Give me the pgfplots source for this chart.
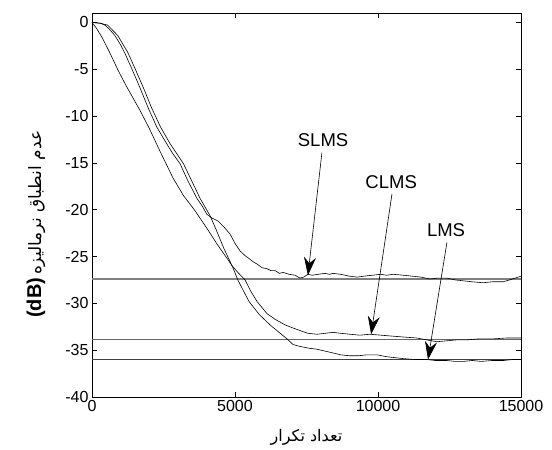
\documentclass[border=0pt]{standalone}
\usepackage{fontspec}
\setmainfont{Liberation Sans}
\newfontfamily\arabicfont[Script=Arabic]{DejaVu Sans}
\usepackage{pgfplots}
\pgfplotsset{compat=1.18}
\usetikzlibrary{arrows.meta}
\TeXXeTstate=1
\begin{document}
\begin{tikzpicture}
\begin{axis}[
  scale only axis, width=429pt, height=384pt,
  xmin=0, xmax=15000, ymin=-40, ymax=1,
  xtick={0,5000,10000,15000}, ytick={-40,-35,-30,-25,-20,-15,-10,-5,0},
  scaled x ticks=false,
  /pgf/number format/1000 sep={},
  /pgf/number format/assume math mode=true,
  tick label style={font=\fontsize{16}{18}\selectfont},
  tick align=inside, tick pos=both, major tick length=5pt,
  axis line style={line width=0.8pt},
  every tick/.style={black, line width=0.6pt},
  every axis x label/.style={at={(axis description cs:0.5,0)}, anchor=center, yshift=-40pt},
  every axis y label/.style={at={(axis description cs:0,0.45)}, anchor=center, xshift=-56pt, rotate=90},
  xlabel={\arabicfont\fontsize{16}{18}\selectfont\beginR تعداد تکرار\endR},
  ylabel={{\fontsize{20}{22}\selectfont\bfseries (dB)}\ {\arabicfont\fontsize{17}{19}\selectfont\beginR عدم انطباق نرماليزه\endR}},
  clip=false,
]
\coordinate (O) at (rel axis cs:0,0);
% reference levels
\addplot[gray, line width=1.2pt] coordinates {(0,-27.4) (15000,-27.4)};
\addplot[gray!80!black, line width=1.2pt] coordinates {(0,-33.9) (15000,-33.9)};
\addplot[black!75, line width=1.0pt] coordinates {(0,-36.0) (15000,-36.0)};
% SLMS
\addplot[black, line width=0.6pt] coordinates {
(0,0) (300,-0.1) (455,-0.3) (600,-0.7) (800,-1.4) (1000,-2.4) (1150,-3.3) (1400,-5.0)
(1680,-7.0) (1960,-9.1) (2270,-11.2) (2600,-12.9) (2800,-13.9) (3080,-15.1) (3350,-16.9)
(3670,-18.8) (3850,-19.6) (4020,-20.5) (4200,-20.9) (4400,-21.2) (4600,-21.8) (4826,-22.6)
(5000,-23.6) (5175,-24.4) (5350,-24.9) (5525,-25.3) (5650,-25.6) (5770,-25.8) (5950,-26.2) (6120,-26.3)
(6250,-26.5) (6400,-26.5) (6550,-26.8) (6680,-26.7) (6900,-26.9) (7100,-27.0) (7270,-27.3) (7400,-27.2) (7550,-26.9)
(7700,-27.0) (7900,-26.9) (8150,-26.8) (8300,-26.9) (8430,-26.8) (8700,-26.9) (9000,-27.1) (9270,-27.2)
(9500,-27.1) (9800,-27.0) (10100,-26.9) (10300,-27.0) (10530,-26.9) (10900,-27.0) (11200,-27.1) (11500,-27.2)
(11820,-27.4) (12100,-27.3) (12400,-27.3) (12700,-27.5) (13000,-27.6) (13300,-27.7) (13670,-27.8)
(14000,-27.7) (14370,-27.7) (14600,-27.5) (14800,-27.3) (15000,-27.1)};
% LMS
\addplot[black, line width=0.6pt] coordinates {
(0,0) (300,-0.1) (550,-0.3) (900,-1.4) (1250,-3.2) (1500,-4.9) (1800,-7.0) (2080,-9.1) (2400,-11.2)
(2720,-12.9) (3200,-15.1) (3780,-18.8) (4120,-20.6) (4350,-22.2) (4620,-24.2) (4900,-26.0)
(5100,-27.5) (5300,-28.7) (5490,-29.8) (5850,-31.2) (6225,-32.3) (6500,-33.0) (6820,-33.8)
(7030,-34.4) (7270,-34.6) (7600,-34.8) (7870,-34.9) (8150,-35.1) (8430,-35.3) (8700,-35.5)
(9020,-35.6) (9300,-35.6) (9600,-35.5) (9970,-35.5) (10300,-35.7) (10600,-35.8) (10880,-35.9)
(11300,-36.0) (11710,-36.0) (12000,-36.1) (12400,-36.1) (12700,-36.2) (12980,-36.2) (13300,-36.1)
(13600,-36.2) (14000,-36.1) (14400,-36.1) (14700,-36.0) (15000,-36.0)};
% CLMS
\addplot[black, line width=0.6pt] coordinates {
(0,0) (150,-0.6) (350,-1.6) (600,-3.1) (909,-5.1) (1200,-6.8) (1678,-9.4) (2000,-11.3)
(2400,-13.9) (2830,-16.6) (3200,-18.5) (3600,-20.1) (4020,-22.0) (4400,-23.8) (4700,-25.1)
(4900,-26.0) (5100,-26.7) (5350,-27.5) (5550,-28.7) (5770,-29.8) (6120,-31.1) (6400,-31.7)
(6750,-32.3) (7000,-32.6) (7270,-32.9) (7550,-33.2) (7870,-33.3) (8150,-33.2) (8430,-33.1)
(8700,-33.2) (9020,-33.3) (9370,-33.4) (9720,-33.3) (10100,-33.4) (10500,-33.5) (10900,-33.6)
(11360,-33.7) (11700,-33.9) (12060,-34.1) (12400,-34.0) (12750,-33.9) (13110,-33.9) (13500,-33.8)
(14000,-33.8) (14500,-33.7) (15000,-33.7)};
% annotations
\node[font=\fontsize{18.5}{20}\selectfont] at (axis cs:8080,-12.6) {SLMS};
\node[font=\fontsize{18.5}{20}\selectfont] at (axis cs:10460,-17.1) {CLMS};
\node[font=\fontsize{18.5}{20}\selectfont] at (axis cs:12380,-22.2) {LMS};
\draw[line width=0.6pt, -{Stealth[length=18pt,width=12pt,inset=6pt]}] (axis cs:8040,-13.9) -- (axis cs:7550,-27.0);
\draw[line width=0.6pt, -{Stealth[length=18pt,width=12pt,inset=6pt]}] (axis cs:10490,-18.3) -- (axis cs:9760,-33.3);
\draw[line width=0.6pt, -{Stealth[length=18pt,width=12pt,inset=6pt]}] (axis cs:12410,-23.5) -- (axis cs:11750,-36.0);
\end{axis}
\pgfresetboundingbox
\path ([shift={(-92pt,-53pt)}]O) rectangle ++(552pt,450pt);
\end{tikzpicture}
\end{document}
